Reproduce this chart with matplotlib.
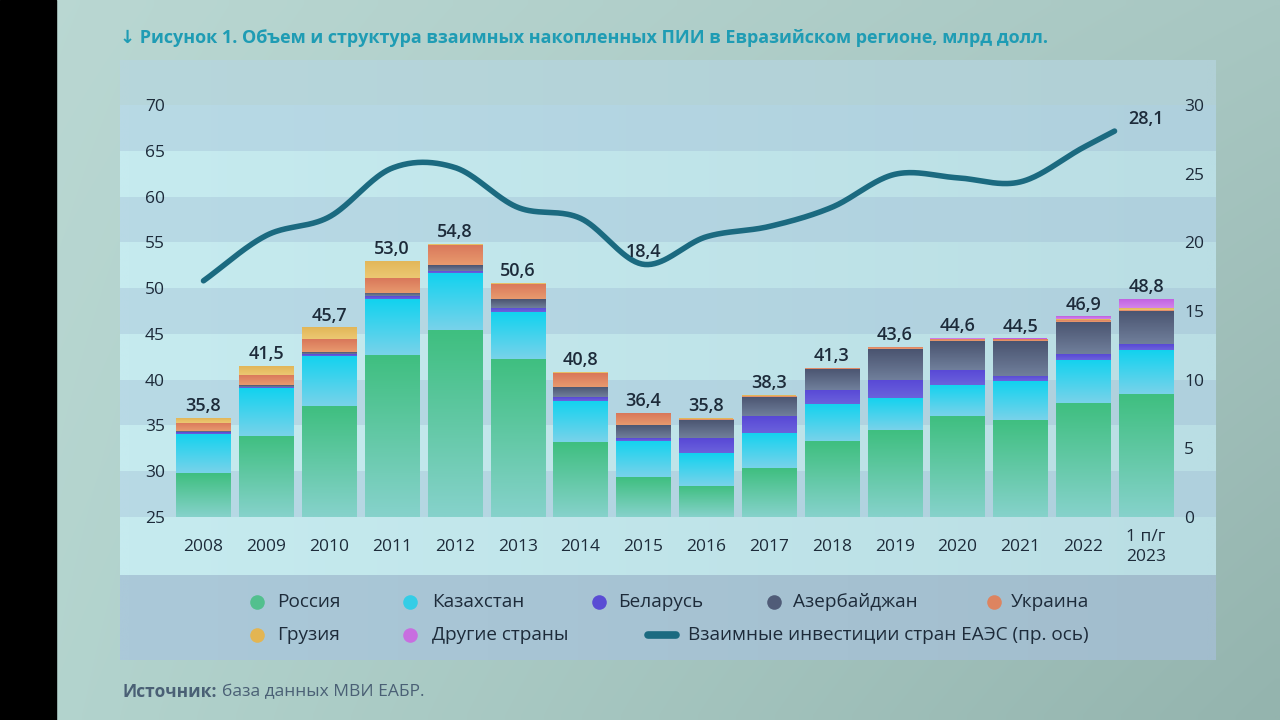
import numpy as np
import matplotlib
matplotlib.use("Agg")
import matplotlib.pyplot as plt
from matplotlib.colors import to_rgb
from matplotlib.patches import Rectangle

FONT = ['Open Sans', 'DejaVu Sans']
plt.rcParams['font.family'] = FONT

# ---------------- data ----------------
years = ['2008', '2009', '2010', '2011', '2012', '2013', '2014', '2015',
         '2016', '2017', '2018', '2019', '2020', '2021', '2022', '1 п/г\n2023']
russia = [29.8, 33.9, 37.1, 42.7, 45.4, 42.3, 33.15, 29.35, 28.4, 30.3, 33.25, 34.5, 36.0, 35.6, 37.45, 38.4]
kazakhstan = [4.3, 5.2, 5.5, 6.1, 6.2, 5.1, 4.55, 3.95, 3.6, 3.9, 4.05, 3.5, 3.4, 4.2, 4.75, 4.8]
belarus = [0.2, 0.15, 0.2, 0.3, 0.3, 0.45, 0.4, 0.3, 1.6, 1.8, 1.6, 2.0, 1.7, 0.6, 0.6, 0.65]
azerbaijan = [0.1, 0.2, 0.2, 0.4, 0.6, 0.95, 1.1, 1.5, 2.0, 2.1, 2.3, 3.3, 3.1, 3.8, 3.5, 3.65]
ukraine = [0.9, 1.1, 1.4, 1.6, 2.2, 1.7, 1.5, 1.25, 0.15, 0.15, 0.08, 0.25, 0.25, 0.2, 0.25, 0.15]
georgia = [0.5, 0.95, 1.3, 1.9, 0.1, 0.1, 0.1, 0.05, 0.05, 0.05, 0.02, 0.05, 0.02, 0.05, 0.05, 0.15]
other = [0, 0, 0, 0, 0, 0, 0, 0, 0, 0, 0, 0, 0.13, 0.05, 0.3, 1.0]
eaeu_mutual = [17.2, 20.5, 21.85, 25.4, 25.45, 22.55, 21.75, 18.4, 20.4, 21.15,
               22.55, 24.95, 24.7, 24.4, 26.9, 28.1]
line_labelled = [7, 15]   # indices whose line value is printed

series_names = ['Россия', 'Казахстан', 'Беларусь', 'Азербайджан', 'Украина', 'Грузия', 'Другие страны']
line_name = 'Взаимные инвестиции стран ЕАЭС (пр. ось)'
title = '↓ Рисунок 1. Объем и структура взаимных накопленных ПИИ в Евразийском регионе, млрд долл.'
source_bold = 'Источник:'
source_text = 'база данных МВИ ЕАБР.'

# ---------------- style ----------------
top_cols = ['#3fbf80', '#12d3ef', '#5848d6', '#4a5470', '#d9775a', '#e2b658', '#c05fe0']
bot_cols = ['#86d2cb', '#78d2ea', '#6b62dc', '#707f9b', '#e89a6e', '#ecc872', '#d385ea']
leg_cols = ['#52c08e', '#34cde6', '#5a4cd4', '#505c78', '#dd8460', '#e3b552', '#c86ee0']
line_col = '#1b6a80'
txt_col = '#1d2b3a'
PX = 72 / 100  # points per pixel

W, H = 1280, 720
fig = plt.figure(figsize=(12.8, 7.2), dpi=100)
renderer = fig.canvas.get_renderer()


def lerp(c1, c2, t):
    a, b = np.array(to_rgb(c1)), np.array(to_rgb(c2))
    return a + (b - a) * t


# ---------------- background (pixel coords) ----------------
bg = fig.add_axes([0, 0, 1, 1], zorder=-10)
bg.set_xlim(0, W)
bg.set_ylim(H, 0)
bg.axis('off')

gy, gx = np.mgrid[0:1:72j, 0:1:128j]
tl, tr, bl, br = [np.array(to_rgb(c)) for c in ('#bad8d3', '#a8c7c2', '#b4d5cf', '#94b4ae')]
slide = (tl * ((1 - gx) * (1 - gy))[..., None] + tr * (gx * (1 - gy))[..., None]
         + bl * ((1 - gx) * gy)[..., None] + br * (gx * gy)[..., None])
bg.imshow(slide, extent=(0, W, H, 0), aspect='auto', interpolation='bilinear', zorder=0)
bg.add_patch(Rectangle((0, 0), 56, H, color='black', zorder=1))

# chart panel
px = np.linspace(0, 1, 64)
panel = np.zeros((64, 64, 3))
for j, t in enumerate(px):
    panel[:, j] = lerp('#c6ebef', '#badee4', t)
bg.imshow(panel, extent=(120, 1216, 575, 60), aspect='auto', interpolation='bilinear', zorder=1)
bg.add_patch(Rectangle((120, 60), 1096, 45, color='#a9c3c9', alpha=0.5, lw=0, zorder=2))
# legend band
band = np.zeros((8, 64, 3))
for j, t in enumerate(px):
    band[:, j] = lerp('#abc9d9', '#a2bdcd', t)
bg.imshow(band, extent=(120, 1216, 660, 575), aspect='auto', interpolation='bilinear', zorder=2)

# ---------------- main axes ----------------
ax = fig.add_axes([120 / W, 1 - 517 / H, 1096 / W, 412 / H])
ax.patch.set_visible(False)
for s in ax.spines.values():
    s.set_visible(False)

x = np.arange(len(years))
c0, step = 203.5, 62.83
xlim = ((120 - c0) / step, (1216 - c0) / step)
ylim = (25, 70)
bar_w = 0.86

for lo in range(25, 70, 10):
    ax.axhspan(lo, lo + 5, color='#98b2d0', alpha=0.3, lw=0, zorder=0)

series = [russia, kazakhstan, belarus, azerbaijan, ukraine, georgia, other]
bottoms = np.zeros(len(years))
for vals, tc, bc in zip(series, top_cols, bot_cols):
    vals = np.array(vals, dtype=float)
    bars = ax.bar(x, vals, bar_w, bottom=bottoms, color=tc, lw=0, zorder=2)
    for rect in bars:
        y0, h = rect.get_y(), rect.get_height()
        lo, hi = max(y0, ylim[0]), y0 + h
        if hi - lo <= 0.05:
            continue
        g = np.linspace(0, 1, 64)
        img = np.array([lerp(tc, bc, t) for t in g])[:, None, :]
        im = ax.imshow(img, extent=(rect.get_x(), rect.get_x() + rect.get_width(), lo, hi),
                       origin='upper', aspect='auto', interpolation='bilinear', zorder=2.5)
        im.set_clip_path(rect)
    bottoms += vals

totals = bottoms
for xi, tot in zip(x, totals):
    ax.annotate(f'{tot:.1f}'.replace('.', ','), (xi, tot), xytext=(0, 5),
                textcoords='offset points', ha='center', va='baseline',
                fontsize=13, fontweight='semibold', color=txt_col, zorder=5)

ax.set_xlim(*xlim)
ax.set_ylim(*ylim)
ax.set_yticks(range(25, 71, 5))
ax.set_xticks(x)
ax.set_xticklabels(years)
ax.tick_params(axis='y', length=0, pad=-45 * PX, labelsize=12.5, labelcolor=txt_col)
ax.tick_params(axis='x', length=0, pad=30 * PX, labelsize=12.5, labelcolor=txt_col)
for lab in ax.get_xticklabels():
    lab.set_verticalalignment('center')
    lab.set_linespacing(1.3)

# ---------------- right axis / line ----------------
ax2 = ax.twinx()
ax2.patch.set_visible(False)
for s in ax2.spines.values():
    s.set_visible(False)
ax2.set_ylim(0, 30)
ax2.set_yticks(range(0, 31, 5))
ax2.tick_params(axis='y', length=0, pad=-32 * PX, labelsize=12.5, labelcolor=txt_col)

lx = x.astype(float)
lx[-1] = lx[-2] + 0.5          # half-year point
ly = np.array(eaeu_mutual, dtype=float)
m = np.zeros_like(ly)
m[1:-1] = (ly[2:] - ly[:-2]) / (lx[2:] - lx[:-2])
m[0] = (ly[1] - ly[0]) / (lx[1] - lx[0])
m[-1] = (ly[-1] - ly[-2]) / (lx[-1] - lx[-2])
xs, ys = [], []
for i in range(len(lx) - 1):
    hseg = lx[i + 1] - lx[i]
    t = np.linspace(0, 1, 40)
    h00 = 2 * t**3 - 3 * t**2 + 1
    h10 = t**3 - 2 * t**2 + t
    h01 = -2 * t**3 + 3 * t**2
    h11 = t**3 - t**2
    xs.append(lx[i] + t * hseg)
    ys.append(h00 * ly[i] + h10 * hseg * m[i] + h01 * ly[i + 1] + h11 * hseg * m[i + 1])
ax2.plot(np.concatenate(xs), np.concatenate(ys), color=line_col, lw=4,
         solid_capstyle='round', zorder=4)
for i in line_labelled:
    ax2.annotate(f'{eaeu_mutual[i]:.1f}'.replace('.', ','), (x[i], eaeu_mutual[i]),
                 xytext=(0, 5), textcoords='offset points', ha='center', va='baseline',
                 fontsize=13, fontweight='semibold', color=txt_col, zorder=5)
ax2.set_xlim(*xlim)

# ---------------- title ----------------
t_title = bg.text(120, 38, title, fontsize=14, fontweight='bold', color='#1f9cb4',
                  va='center', ha='left')
w = t_title.get_window_extent(renderer).width
t_title.set_fontsize(14 * 938 / w)

# ---------------- legend ----------------
leg_pos = [(257, 277, 602), (410, 432, 602), (599, 618, 602), (774, 793, 602),
           (994, 1011, 602), (257, 277, 635), (410, 432, 635)]
for name, col, (mx, tx, yy) in zip(series_names, leg_cols, leg_pos):
    bg.plot([mx], [yy], 'o', ms=10.5, color=col, mec='none', zorder=5)
    bg.text(tx, yy, name, fontsize=12.5, color=txt_col, va='center', ha='left', zorder=5)
bg.plot([648, 676], [635, 635], color=line_col, lw=5.5, solid_capstyle='round', zorder=5)
t_line = bg.text(688, 635, line_name, fontsize=12.5, color=txt_col, va='center', ha='left', zorder=5)
w = t_line.get_window_extent(renderer).width
leg_fs = 12.5 * 402 / w
t_line.set_fontsize(leg_fs)
for tt in bg.texts:
    if tt.get_text() in series_names:
        tt.set_fontsize(leg_fs)

# ---------------- source ----------------
s1 = bg.text(122, 692, source_bold, fontsize=12.5, fontweight='bold', color='#4a6075',
             va='center', ha='left')
w1 = s1.get_window_extent(renderer).width
bg.text(122 + w1 + 6, 692, source_text, fontsize=12.5, color='#4a6075', va='center', ha='left')

fig.savefig('out.png', dpi=100)
